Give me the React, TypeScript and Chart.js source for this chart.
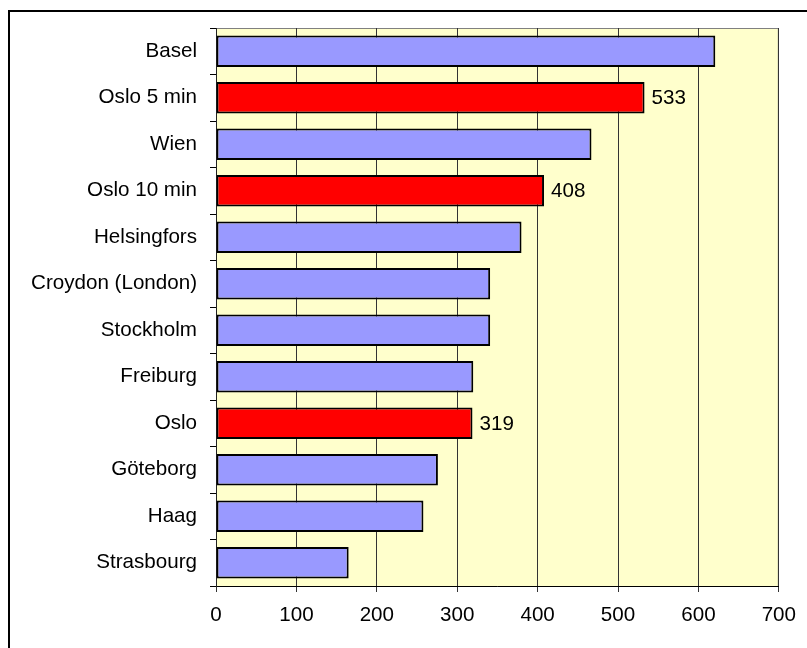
import React, { useEffect, useRef } from "react";
import { Chart, registerables } from "chart.js";

Chart.register(...registerables);

const categories = [
  "Basel",
  "Oslo 5 min",
  "Wien",
  "Oslo 10 min",
  "Helsingfors",
  "Croydon (London)",
  "Stockholm",
  "Freiburg",
  "Oslo",
  "Göteborg",
  "Haag",
  "Strasbourg",
];
const values = [621, 533, 467, 408, 380, 341, 341, 320, 319, 276, 258, 165];
const highlighted = ["Oslo 5 min", "Oslo 10 min", "Oslo"];
const xTicks = [0, 100, 200, 300, 400, 500, 600, 700];

const FONT = "'Liberation Sans', Arial, sans-serif";
const FONT_SIZE = 20.6;
const PLOT_BG = "#FFFFCC";
const BAR_COLOR = "#9999FF";
const HIGHLIGHT_COLOR = "#FF0000";

export default function App() {
  const ref = useRef<HTMLCanvasElement>(null);

  useEffect(() => {
    const canvas = ref.current;
    if (!canvas) return;

    const plotBg = {
      id: "plotBg",
      beforeDraw(chart: any) {
        const { ctx, chartArea: a } = chart;
        ctx.save();
        ctx.fillStyle = PLOT_BG;
        ctx.fillRect(a.left, a.top, a.right - a.left, a.bottom - a.top);
        ctx.strokeStyle = "#808080";
        ctx.lineWidth = 1;
        ctx.strokeRect(a.left + 0.5, a.top + 0.5, a.right - a.left - 1, a.bottom - a.top);
        ctx.restore();
      },
    };

    const valueLabels = {
      id: "valueLabels",
      afterDatasetsDraw(chart: any) {
        const { ctx } = chart;
        const meta = chart.getDatasetMeta(0);
        ctx.save();
        ctx.font = `${FONT_SIZE}px ${FONT}`;
        ctx.fillStyle = "#000";
        ctx.textAlign = "left";
        ctx.textBaseline = "middle";
        meta.data.forEach((bar: any, i: number) => {
          if (!highlighted.includes(categories[i])) return;
          ctx.fillText(String(values[i]), bar.x + 7, bar.y + 1);
        });
        ctx.restore();
      },
    };

    const chart = new Chart(canvas, {
      type: "bar",
      data: {
        labels: categories,
        datasets: [
          {
            data: values,
            backgroundColor: categories.map((c) =>
              highlighted.includes(c) ? HIGHLIGHT_COLOR : BAR_COLOR
            ),
            borderColor: "#000",
            borderWidth: 2,
            borderSkipped: false,
            barPercentage: 0.68,
            categoryPercentage: 1,
          },
        ],
      },
      options: {
        indexAxis: "y",
        responsive: false,
        animation: false,
        layout: { padding: { top: 28, right: 27, left: 0, bottom: 0 } },
        plugins: {
          legend: { display: false },
          tooltip: { enabled: false },
          title: { display: false },
        },
        scales: {
          x: {
            type: "linear",
            min: 0,
            max: 700,
            afterBuildTicks(scale: any) {
              scale.ticks = xTicks.map((v) => ({ value: v }));
            },
            afterFit(scale: any) {
              scale.height = 62;
            },
            grid: {
              color: "#333",
              lineWidth: 1,
              tickLength: 6,
              drawOnChartArea: true,
            },
            border: { color: "#000", width: 1 },
            ticks: {
              color: "#000",
              padding: 11,
              font: { family: FONT, size: FONT_SIZE },
            },
          },
          y: {
            type: "category",
            afterFit(scale: any) {
              scale.width = 216;
            },
            grid: {
              display: true,
              drawOnChartArea: false,
              tickLength: 6,
              color: "#000",
              offset: true,
            },
            border: { color: "#222", width: 1 },
            ticks: {
              color: "#000",
              padding: 13,
              font: { family: FONT, size: FONT_SIZE },
            },
          },
        },
      },
      plugins: [plotBg, valueLabels],
    });

    return () => chart.destroy();
  }, []);

  return (
    <div>
      <canvas
        ref={ref}
        width={807}
        height={648}
        style={{ position: "fixed", left: 0, top: 0, width: 807, height: 648 }}
      />
      <div
        style={{
          position: "fixed",
          left: 8,
          top: 10,
          width: 900,
          height: 800,
          border: "2px solid #000",
          pointerEvents: "none",
        }}
      />
    </div>
  );
}
